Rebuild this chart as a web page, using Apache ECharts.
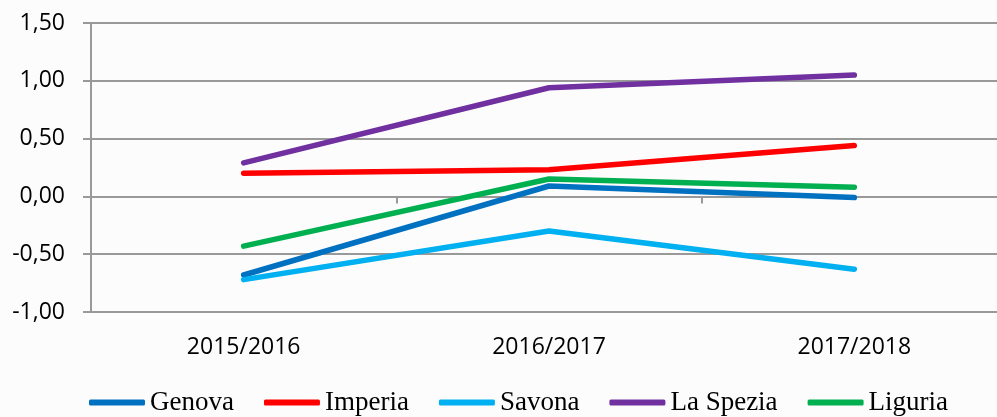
<!DOCTYPE html>
<html>
<head>
<meta charset="utf-8">
<script src="https://cdn.jsdelivr.net/npm/echarts@6/dist/echarts.min.js"></script>
<style>
  html, body { margin: 0; padding: 0; background: #fcfcfc; }
  #chart { width: 997px; height: 417px; }
</style>
</head>
<body>
<div id="chart"></div>
<script>
// categorie (anni scolastici)
const categories = ['2015/2016', '2016/2017', '2017/2018'];

// valori per provincia
const genova = [-0.68, 0.09, -0.01];
const imperia = [0.20, 0.23, 0.44];
const savona = [-0.72, -0.30, -0.63];
const laSpezia = [0.29, 0.94, 1.05];
const liguria = [-0.43, 0.15, 0.08];

const seriesNames = ['Genova', 'Imperia', 'Savona', 'La Spezia', 'Liguria'];
const seriesData = [genova, imperia, savona, laSpezia, liguria];
const colors = ['#0070C0', '#FF0000', '#00B0F0', '#7030A0', '#00B050'];

const chart = echarts.init(document.getElementById('chart'));

const gridColor = '#999999';

const option = {
  backgroundColor: '#fcfcfc',
  color: colors,
  animation: false,
  grid: {
    left: 91,
    right: -10,
    top: 23,
    bottom: 105,
    outerBoundsMode: 'none',
    containLabel: false,
  },
  legend: {
    data: seriesNames,
    left: 84,
    top: 384,
    icon: 'roundRect',
    itemWidth: 56,
    itemHeight: 6,
    itemGap: 30,
    textStyle: {
      fontFamily: 'Liberation Serif',
      fontSize: 27,
      color: '#000',
    },
  },
  xAxis: [
    {
      // asse sullo zero, solo linea e tacche
      type: 'category',
      data: categories,
      boundaryGap: true,
      axisLine: {
        onZero: true,
        lineStyle: { color: gridColor, width: 2 },
      },
      axisTick: {
        show: true,
        length: 7,
        lineStyle: { color: gridColor, width: 2 },
      },
      axisLabel: { show: false },
    },
    {
      // etichette in basso
      type: 'category',
      data: categories,
      position: 'bottom',
      boundaryGap: true,
      axisLine: { show: false, onZero: false },
      axisTick: { show: false },
      axisLabel: {
        margin: 24,
        fontFamily: 'Open Sans',
        fontSize: 23,
        color: '#000',
      },
    },
  ],
  yAxis: {
    type: 'value',
    min: -1,
    max: 1.5,
    interval: 0.5,
    axisLine: {
      show: true,
      lineStyle: { color: gridColor, width: 2 },
    },
    axisTick: {
      show: true,
      length: 8,
      lineStyle: { color: gridColor, width: 2 },
    },
    axisLabel: {
      margin: 26,
      fontFamily: 'Open Sans',
      fontSize: 23,
      color: '#000',
      formatter: (v) => v.toFixed(2).replace('.', ','),
    },
    splitLine: {
      lineStyle: { color: gridColor, width: 2 },
    },
  },
  series: seriesNames.map((name, i) => ({
    name: name,
    type: 'line',
    data: seriesData[i],
    showSymbol: false,
    symbol: 'none',
    lineStyle: { width: 5.5, cap: 'round', join: 'round' },
  })),
};

chart.setOption(option);
</script>
</body>
</html>
